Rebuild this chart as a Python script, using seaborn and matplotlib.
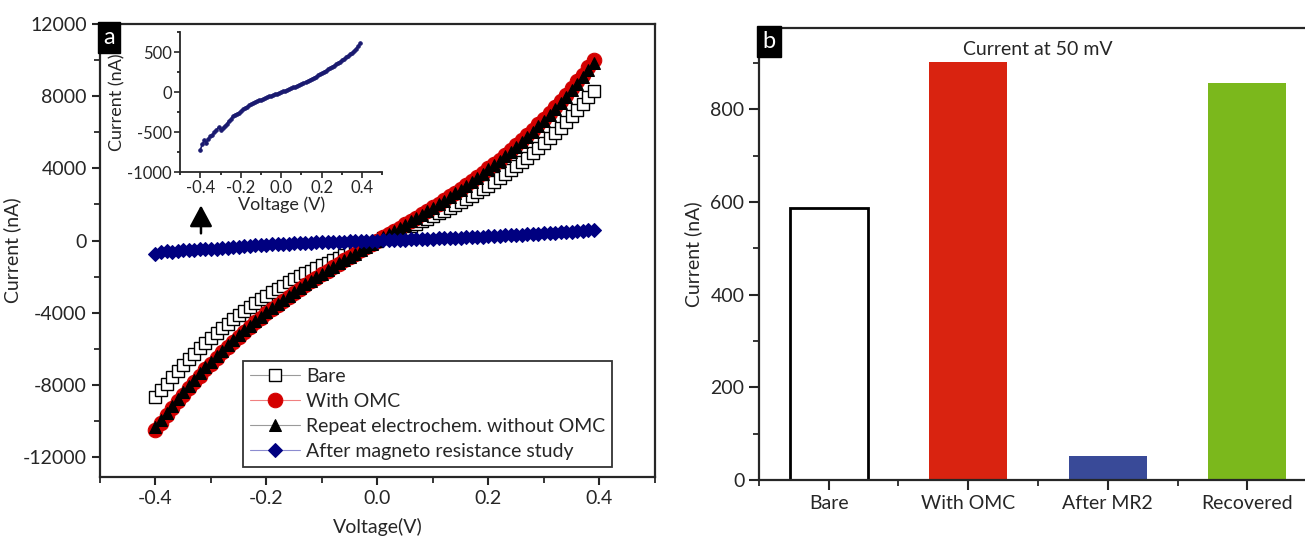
import matplotlib
matplotlib.use('Agg')
import matplotlib.pyplot as plt
from matplotlib.ticker import MultipleLocator
import seaborn as sns

# I-V sweep (V) - one point per marker
voltage = [-0.40, -0.39, -0.38, -0.37, -0.36, -0.35, -0.34, -0.33, -0.32, -0.31,
           -0.30, -0.29, -0.28, -0.27, -0.26, -0.25, -0.24, -0.23, -0.22, -0.21,
           -0.20, -0.19, -0.18, -0.17, -0.16, -0.15, -0.14, -0.13, -0.12, -0.11,
           -0.10, -0.09, -0.08, -0.07, -0.06, -0.05, -0.04, -0.03, -0.02, -0.01,
           0.00, 0.01, 0.02, 0.03, 0.04, 0.05, 0.06, 0.07, 0.08, 0.09,
           0.10, 0.11, 0.12, 0.13, 0.14, 0.15, 0.16, 0.17, 0.18, 0.19,
           0.20, 0.21, 0.22, 0.23, 0.24, 0.25, 0.26, 0.27, 0.28, 0.29,
           0.30, 0.31, 0.32, 0.33, 0.34, 0.35, 0.36, 0.37, 0.38, 0.39]

bare = [-8680, -8300, -7930, -7570, -7230, -6890, -6570, -6260, -5950, -5660,
        -5380, -5110, -4850, -4600, -4350, -4120, -3890, -3670, -3450, -3250,
        -3050, -2860, -2670, -2490, -2320, -2150, -1980, -1820, -1660, -1510,
        -1360, -1220, -1080, -940, -800, -660, -530, -390, -260, -130,
        0, 130, 260, 390, 530, 660, 800, 940, 1080, 1220,
        1360, 1510, 1660, 1820, 1980, 2150, 2320, 2490, 2670, 2860,
        3050, 3250, 3450, 3670, 3890, 4120, 4350, 4600, 4850, 5110,
        5380, 5660, 5950, 6260, 6570, 6890, 7230, 7570, 7930, 8300]

with_omc = [-10520, -10100, -9690, -9300, -8910, -8540, -8170, -7820, -7480, -7140,
            -6820, -6500, -6200, -5900, -5610, -5330, -5060, -4790, -4530, -4280,
            -4040, -3800, -3560, -3330, -3110, -2890, -2680, -2470, -2260, -2060,
            -1860, -1670, -1480, -1290, -1100, -910, -730, -550, -360, -180,
            0, 180, 360, 540, 720, 900, 1090, 1270, 1460, 1650,
            1850, 2040, 2240, 2450, 2650, 2860, 3080, 3300, 3530, 3760,
            4000, 4240, 4490, 4740, 5010, 5280, 5560, 5840, 6140, 6440,
            6750, 7070, 7400, 7740, 8090, 8450, 8820, 9200, 9600, 10000]

repeat = [-10330, -9930, -9530, -9150, -8770, -8410, -8050, -7700, -7360, -7030,
          -6710, -6400, -6100, -5810, -5520, -5250, -4980, -4720, -4460, -4220,
          -3970, -3740, -3510, -3280, -3060, -2850, -2640, -2430, -2230, -2030,
          -1830, -1640, -1460, -1270, -1080, -900, -720, -540, -360, -180,
          0, 180, 350, 530, 710, 890, 1070, 1250, 1440, 1620,
          1820, 2010, 2210, 2410, 2610, 2820, 3030, 3250, 3470, 3700,
          3940, 4170, 4420, 4670, 4930, 5200, 5470, 5750, 6040, 6340,
          6650, 6960, 7290, 7620, 7970, 8320, 8690, 9060, 9450, 9850]

after_mr = [-720, -650, -600, -630, -580, -550, -530, -500, -470, -440,
            -470, -450, -420, -400, -360, -340, -300, -280, -270, -255,
            -235, -215, -195, -180, -165, -150, -135, -120, -110, -100,
            -92, -82, -72, -62, -52, -43, -34, -25, -16, -8,
            0, 10, 20, 30, 40, 50, 60, 71, 82, 93,
            105, 117, 129, 141, 154, 167, 181, 195, 210, 225,
            240, 255, 270, 286, 302, 318, 334, 350, 366, 383,
            400, 417, 435, 454, 474, 496, 520, 546, 575, 610]

# panel b
bar_labels = ['Bare', 'With OMC', 'After MR2', 'Recovered']
bar_values = [586, 901, 52, 857]
bar_colors = ['white', '#d92310', '#394a98', '#7bb81c']

sns.set_style('ticks')
plt.rcParams['font.family'] = ['Lato', 'DejaVu Sans']
plt.rcParams['axes.unicode_minus'] = False
plt.rcParams['axes.linewidth'] = 1.6
for a in ('x', 'y'):
    plt.rcParams[f'{a}tick.major.width'] = 1.5
    plt.rcParams[f'{a}tick.minor.width'] = 1.3
    plt.rcParams[f'{a}tick.major.size'] = 6
    plt.rcParams[f'{a}tick.minor.size'] = 4
    plt.rcParams[f'{a}tick.direction'] = 'out'

fig = plt.figure(figsize=(13.05, 5.38), dpi=100)
ax1 = fig.add_axes([0.0766, 0.1134, 0.4253, 0.842])
ax2 = fig.add_axes([0.5816, 0.1078, 0.4276, 0.840])

# ---- panel a
sns.lineplot(x=voltage, y=bare, ax=ax1, color='#9a9a9a', lw=0.8, marker='s', ms=8,
             mfc='white', mec='black', mew=1.0, label='Bare', sort=False)
sns.lineplot(x=voltage, y=with_omc, ax=ax1, color='#f08080', lw=0.8, marker='o', ms=10.5,
             mfc='#d40000', mec='#d40000', label='With OMC', sort=False)
sns.lineplot(x=voltage, y=repeat, ax=ax1, color='#9a9a9a', lw=0.8, marker='^', ms=8.5,
             mfc='black', mec='black', label='Repeat electrochem. without OMC', sort=False)
sns.lineplot(x=voltage, y=after_mr, ax=ax1, color='#8c8cd0', lw=0.8, marker='D', ms=7.5,
             mfc='#000080', mec='#000080', label='After magneto resistance study', sort=False)

ax1.set_xlim(-0.5, 0.5)
ax1.set_ylim(-13100, 12000)
ax1.xaxis.set_major_locator(MultipleLocator(0.2))
ax1.xaxis.set_minor_locator(MultipleLocator(0.1))
ax1.yaxis.set_major_locator(MultipleLocator(4000))
ax1.yaxis.set_minor_locator(MultipleLocator(2000))
ax1.set_xticks([-0.4, -0.2, 0.0, 0.2, 0.4])
ax1.set_xticklabels(['-0.4', '-0.2', '0.0', '0.2', '0.4'])
ax1.tick_params(labelsize=14)
ax1.set_xlabel('Voltage(V)', fontsize=14, labelpad=8)
ax1.set_ylabel('Current (nA)', fontsize=14, labelpad=1)
for s in ax1.spines.values():
    s.set_visible(True)

leg = ax1.legend(loc='lower right', bbox_to_anchor=(0.9225, 0.022), borderaxespad=0,
                 fontsize=14, frameon=True, fancybox=False, edgecolor='black',
                 handlelength=2.6, labelspacing=0.42, handletextpad=0.3,
                 borderpad=0.35, markerscale=1.0)
leg.get_frame().set_linewidth(1.3)

ax1.text(0.006, 0.993, 'a', transform=ax1.transAxes, ha='left', va='top', fontsize=17,
         color='white', bbox=dict(boxstyle='square,pad=0.22', fc='black', ec='black'))

ax1.annotate('', xy=(-0.318, 1950), xytext=(-0.318, 400),
             arrowprops=dict(arrowstyle='-|>,head_length=1.3,head_width=0.7',
                             color='black', lw=1.8, shrinkA=0, shrinkB=0))

# inset
axin = fig.add_axes([0.138, 0.680, 0.155, 0.260])
sns.lineplot(x=voltage, y=after_mr, ax=axin, color='#1a1a70', lw=1.2, marker='o', ms=2.5,
             mfc='#1a1a70', mec='#1a1a70', sort=False)
axin.set_xlim(-0.5, 0.5)
axin.set_ylim(-1000, 750)
axin.xaxis.set_major_locator(MultipleLocator(0.2))
axin.xaxis.set_minor_locator(MultipleLocator(0.1))
axin.yaxis.set_major_locator(MultipleLocator(500))
axin.yaxis.set_minor_locator(MultipleLocator(250))
axin.set_xticks([-0.4, -0.2, 0.0, 0.2, 0.4])
axin.set_xticklabels(['-0.4', '-0.2', '0.0', '0.2', '0.4'])
axin.set_yticks([-1000, -500, 0, 500])
axin.tick_params(labelsize=12, length=4, width=1.2, pad=2)
axin.tick_params(which='minor', length=2.5)
axin.set_xlabel('Voltage (V)', fontsize=13, labelpad=0)
axin.set_ylabel('Current (nA)', fontsize=13, labelpad=1)
axin.patch.set_alpha(0)
sns.despine(ax=axin)
for s in ('left', 'bottom'):
    axin.spines[s].set_linewidth(1.3)

# ---- panel b
sns.barplot(x=bar_labels, y=bar_values, hue=bar_labels, palette=bar_colors,
            width=0.56, legend=False, ax=ax2, saturation=1)
for p, c in zip(ax2.patches, bar_colors):
    if c == 'white':
        p.set_edgecolor('black')
        p.set_linewidth(2)
    else:
        p.set_edgecolor('none')
ax2.set_xlim(-0.5, 3.5)
ax2.set_ylim(0, 975)
ax2.yaxis.set_major_locator(MultipleLocator(200))
ax2.yaxis.set_minor_locator(MultipleLocator(100))
ax2.set_xticks([-0.5, 0.5, 1.5, 2.5, 3.5], minor=True)
ax2.tick_params(labelsize=14)
ax2.tick_params(axis='x', which='major', length=7)
ax2.tick_params(axis='y', which='major', length=7)
ax2.set_ylabel('Current (nA)', fontsize=14, labelpad=6)
ax2.set_xlabel('')
ax2.set_title('Current at 50 mV', fontsize=14, y=0.94, pad=0)
ax2.spines['right'].set_visible(False)
ax2.spines['top'].set_visible(True)
ax2.text(0.006, 0.993, 'b', transform=ax2.transAxes, ha='left', va='top', fontsize=17,
         color='white', bbox=dict(boxstyle='square,pad=0.22', fc='black', ec='black'))

fig.savefig('out.png', dpi=100)
